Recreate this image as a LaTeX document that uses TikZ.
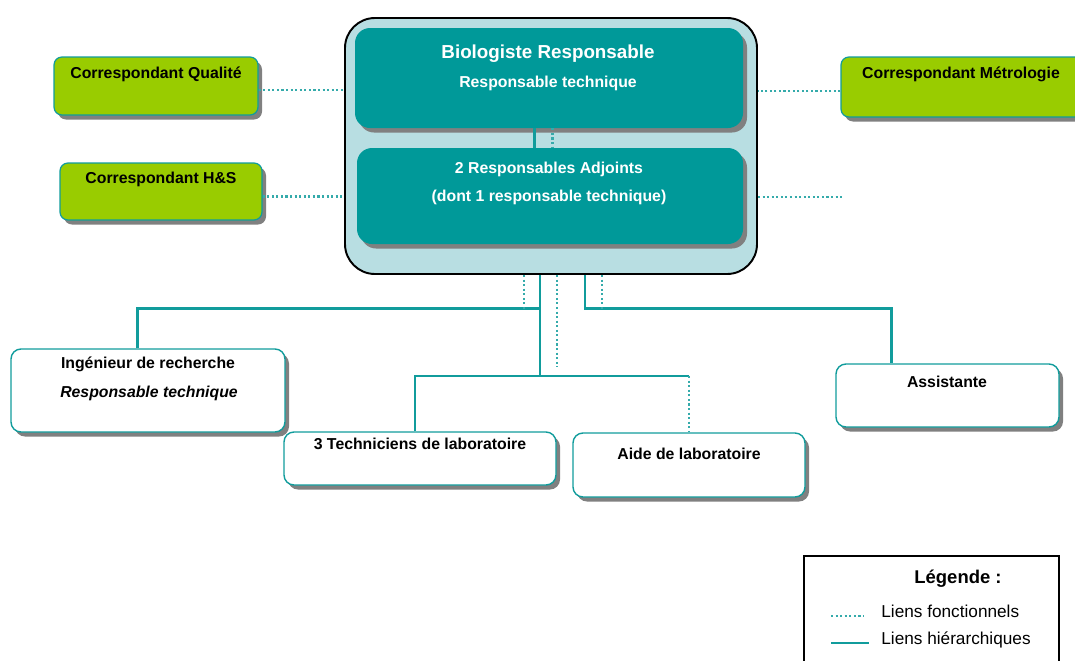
\documentclass[tikz,border=0pt]{standalone}
\usepackage{fontspec}
\setmainfont{Liberation Sans}
\usepackage{tikz}
\usetikzlibrary{positioning, fit, shadows, calc}

\definecolor{orgTeal}{HTML}{009999}
\definecolor{orgPale}{HTML}{B8DEE2}
\definecolor{orgLime}{HTML}{99CC00}
\definecolor{orgShadow}{HTML}{808080}
\definecolor{orgLink}{HTML}{119C9C}

\tikzset{
  boxshadow/.style={general shadow={fill=orgShadow, shadow xshift=0.08cm, shadow yshift=-0.09cm}},
  headbox/.style={fill=orgTeal, draw=none, rounded corners=0.3cm, inner sep=0pt, boxshadow},
  corrbox/.style={fill=orgLime, draw=orgLink, line width=0.7pt, rounded corners=0.16cm, inner sep=0pt, boxshadow},
  staffbox/.style={fill=white, draw=orgLink, line width=0.8pt, rounded corners=0.2cm, inner sep=0pt, boxshadow},
  hlink/.style={draw=orgLink, line width=1.4pt},
  flink/.style={draw=orgLink!85, line width=1.3pt, dash pattern=on 1.2pt off 1.4pt},
  lbl/.style={font=\bfseries\fontsize{9}{11}\selectfont, anchor=base, inner sep=0pt},
  leglbl/.style={font=\fontsize{9.8}{12}\selectfont, anchor=base west, inner sep=0pt},
}

\begin{document}
\begin{tikzpicture}[x=0.02cm, y=-0.02cm]
  \useasboundingbox (0,0) rectangle (1075,660);

  %% Direction block
  \node[fill=orgPale, draw=black, line width=1.1pt, rounded corners=0.6cm, inner sep=0pt,
        fit={(345,18) (757,274)}] (outer) {};
  \node[headbox, fit={(355,28) (743,128)}] (resp) {};
  \node[headbox, fit={(357,148) (743,244)}] (adj) {};
  \node[lbl, white, font=\bfseries\fontsize{10.7}{13}\selectfont] (respT) at (548,58) {Biologiste Responsable};
  \node[lbl, white] (respS) at (548,87) {Responsable technique};
  \node[lbl, white] (adjT) at (549,173) {2 Responsables Adjoints};
  \node[lbl, white] (adjS) at (549,201) {(dont 1 responsable technique)};
  \draw[hlink] ([xshift=-0.29cm]resp.south) -- ([xshift=-0.29cm]resp.south |- adj.north);
  \draw[flink] ([xshift=0.07cm]resp.south) -- ([xshift=0.07cm]resp.south |- adj.north);

  %% Correspondants
  \node[corrbox, fit={(54,57) (258,115)}] (qual) {};
  \node[lbl] (qualT) at (156,78) {Correspondant Qualité};
  \node[corrbox, fit={(60,163) (262,220)}] (hs) {};
  \node[lbl] (hsT) at (161,183) {Correspondant H\&S};
  \node[corrbox, fit={(841,57) (1085,117)}] (metro) {};
  \node[lbl] (metroT) at (961,78) {Correspondant Métrologie};
  \coordinate (freeEnd) at (842,197);

  \draw[flink] ([yshift=-0.08cm]qual.east) -- ([yshift=-0.08cm]qual.east -| outer.west);
  \draw[flink] ([yshift=-0.1cm]hs.east) -- ([yshift=-0.1cm]hs.east -| outer.west);
  \draw[flink] ([yshift=-0.08cm]metro.west) -- ([yshift=-0.08cm]metro.west -| outer.east);
  \draw[flink] (outer.east |- freeEnd) -- (freeEnd);

  %% Staff
  \node[staffbox, fit={(11,349) (285,432)}] (ing) {};
  \node[lbl] (ingT) at (148,368) {Ingénieur de recherche};
  \node[lbl, font=\bfseries\itshape\fontsize{9}{11}\selectfont] (ingS) at (149,397) {Responsable technique};
  \node[staffbox, fit={(284,432) (556,485)}] (tech) {};
  \node[lbl] (techT) at (420,449) {3 Techniciens de laboratoire};
  \node[staffbox, fit={(573,433) (805,497)}] (aide) {};
  \node[lbl] (aideT) at (689,459) {Aide de laboratoire};
  \node[staffbox, fit={(836,364) (1059,427)}] (assist) {};
  \node[lbl] (assistT) at (947,387) {Assistante};

  %% Hierarchy links
  \coordinate (splitL) at (540,308.5);
  \coordinate (splitR) at (585,308.5);
  \coordinate (splitM) at (540,376);
  \draw[hlink] (outer.south -| splitM) -- (splitM);
  \draw[hlink] ([xshift=-0.21cm]ing.north) |- (splitL);
  \draw[hlink] (outer.south -| splitR) -- (splitR) -| ([xshift=-1.12cm]assist.north);
  \draw[hlink] ([xshift=-0.1cm]tech.north) |- (aide.north |- splitM);

  %% Functional links
  \coordinate (dotA) at (524,308.5);
  \coordinate (dotB) at (557,367);
  \coordinate (dotC) at (602,308.5);
  \draw[flink] (outer.south -| dotA) -- (dotA);
  \draw[flink] (outer.south -| dotB) -- (dotB);
  \draw[flink] (outer.south -| dotC) -- (dotC);
  \draw[flink] (aide.north |- splitM) -- (aide.north);

  %% Legend
  \node[draw=black, line width=0.9pt, inner sep=0pt, fit={(804,556) (1059,675)}] (legend) {};
  \node[lbl, font=\bfseries\fontsize{10.5}{13}\selectfont] (legT) at (958,583) {Légende :};
  \node[leglbl] (legF) at (881,617) {Liens fonctionnels};
  \node[leglbl] (legH) at (881,644) {Liens hiérarchiques};
  \draw[flink, line width=1pt] (831,616) -- (864,616);
  \draw[hlink] (831,643) -- (869,643);
\end{tikzpicture}
\end{document}
